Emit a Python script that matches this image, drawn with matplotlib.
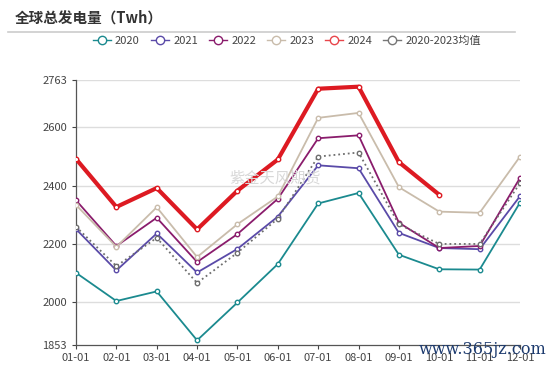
import matplotlib
matplotlib.use("Agg")
from matplotlib import pyplot as plt
from matplotlib.lines import Line2D

plt.rcParams['font.family'] = ['Noto Sans CJK SC', 'DejaVu Sans']

months = ['01-01', '02-01', '03-01', '04-01', '05-01', '06-01',
          '07-01', '08-01', '09-01', '10-01', '11-01', '12-01']

y2020 = [2101, 2004, 2037, 1869, 1999, 2131, 2339, 2375, 2163, 2113, 2112, 2342]
y2021 = [2251, 2109, 2236, 2102, 2183, 2294, 2470, 2460, 2238, 2186, 2182, 2364]
y2022 = [2350, 2193, 2290, 2138, 2234, 2355, 2563, 2573, 2273, 2186, 2193, 2427]
y2023 = [2334, 2190, 2326, 2155, 2268, 2363, 2633, 2650, 2395, 2311, 2307, 2500]
y2024 = [2492, 2327, 2392, 2250, 2383, 2490, 2733, 2740, 2481, 2369]
yavg = [2259, 2124, 2221, 2066, 2170, 2287, 2500, 2514, 2267, 2200, 2200, 2409]

yticks = [1853, 2000, 2200, 2400, 2600, 2763]

fig = plt.figure(figsize=(5.5, 3.65), dpi=100)
ax = fig.add_axes([76/550, 1-345/365, 444/550, 265/365])

x = list(range(len(months)))
series = [
    ('2020', y2020, '#1b8a8f', 1.3, '-'),
    ('2021', y2021, '#5a4aa8', 1.3, '-'),
    ('2022', y2022, '#8a1c6c', 1.3, '-'),
    ('2023', y2023, '#c9bcab', 1.3, '-'),
    ('2020-2023均值', yavg, '#6e6e6e', 1.3, ':'),
    ('2024', y2024, '#dd1a22', 3.0, '-'),
]
for name, vals, col, lw, ls in series:
    ax.plot(x[:len(vals)], vals, color=col, lw=lw, ls=ls,
            marker='o', ms=3.2, mfc='white', mec=col, mew=1.0, zorder=3)

ax.set_xlim(0, 11)
ax.set_ylim(1853, 2763)
ax.set_yticks(yticks)
ax.set_xticks(x)
ax.set_xticklabels(months)
ax.tick_params(axis='both', labelsize=8, colors='#444444', length=3, width=0.8)
ax.tick_params(axis='x', pad=3)
for t in yticks[1:]:
    ax.axhline(t, color='#dddddd', lw=1.0, zorder=1)
for s in ['top', 'right']:
    ax.spines[s].set_visible(False)
for s in ['left', 'bottom']:
    ax.spines[s].set_color('#555555')
    ax.spines[s].set_linewidth(0.9)
ax.margins(x=0)

fig.text(15/550, 1-18/365, '全球总发电量（Twh）', fontsize=10.5, fontweight='bold',
         color='#333333', va='center', ha='left')
fig.add_artist(Line2D([8/550, 515/550], [1-32/365, 1-32/365], color='#cccccc', lw=1.2))

order = ['2020', '2021', '2022', '2023', '2024', '2020-2023均值']
cols = {'2020': '#1b8a8f', '2021': '#5a4aa8', '2022': '#8a1c6c', '2023': '#c9bcab',
        '2024': '#e8454b', '2020-2023均值': '#777777'}
handles = [Line2D([], [], color=cols[n], lw=1.0, marker='o', ms=6, mfc='white',
                  mec=cols[n], mew=1.0) for n in order]
fig.legend(handles, order, loc='center', bbox_to_anchor=(287/550, 1-41/365), ncol=6,
           frameon=False, fontsize=8, handlelength=1.6, handletextpad=0.4,
           columnspacing=1.0, labelcolor='#444444')

fig.text(275/550, 1-178/365, '紫金天风期货', fontsize=11, color='#d8d8d8',
         ha='center', va='center', zorder=0)
fig.text(483/550, 1-349/365, 'www.365jz.com', fontsize=11.5, color='#1c3a6e',
         family='DejaVu Serif', ha='center', va='center')

fig.savefig('out.png', dpi=100)
